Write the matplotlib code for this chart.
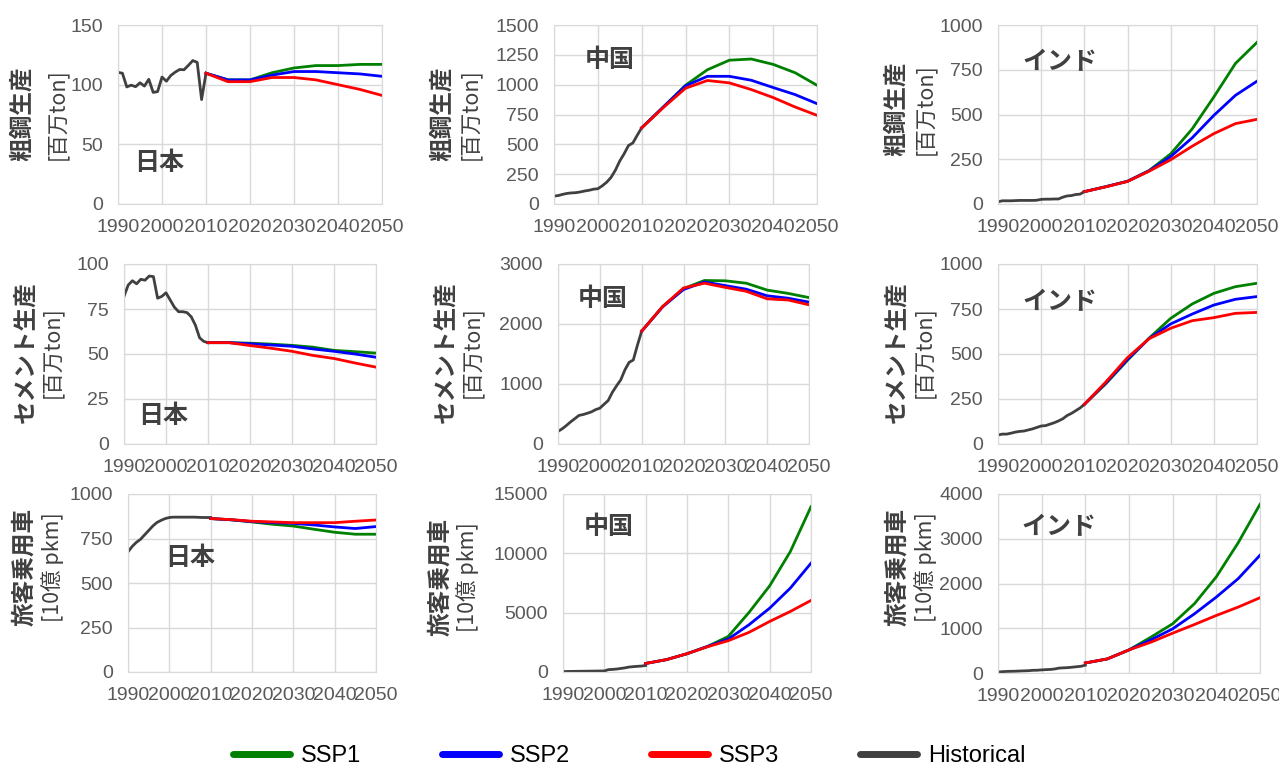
import matplotlib
matplotlib.use("Agg")
import matplotlib.pyplot as plt
import matplotlib.font_manager as fm
from matplotlib.lines import Line2D

# Years
hist_years = list(range(1990, 2011))
scen_years = [2010, 2015, 2020, 2025, 2030, 2035, 2040, 2045, 2050]
xtick_years = [1990, 2000, 2010, 2020, 2030, 2040, 2050]

# Crude steel [million ton]
jp_steel_hist = [110.3, 109.6, 98.1, 99.6, 98.3, 101.6, 98.8, 104.5, 93.5, 94.2, 106.4,
                 102.9, 107.7, 110.5, 112.7, 112.5, 116.2, 120.2, 118.7, 87.5, 109.6]
jp_steel_ssp1 = [109.6, 104, 104, 110, 114, 116, 116, 117, 117]
jp_steel_ssp2 = [109.6, 104, 104, 108, 111, 111, 110, 109, 107]
jp_steel_ssp3 = [109.6, 102.5, 102.5, 106, 106, 104, 100, 96, 91]

cn_steel_hist = [66, 71, 81, 89, 93, 95, 101, 109, 115, 124, 128,
                 152, 182, 222, 283, 360, 421, 490, 512, 577, 638]
cn_steel_ssp1 = [638, 815, 995, 1125, 1205, 1215, 1170, 1100, 995]
cn_steel_ssp2 = [638, 815, 990, 1070, 1070, 1037, 976, 917, 841]
cn_steel_ssp3 = [638, 810, 970, 1035, 1015, 959, 892, 813, 743]

in_steel_hist = [12, 18, 18, 18, 19, 20, 20, 20, 20, 21, 26,
                 27, 27, 28, 28, 38, 45, 47, 53, 55, 69]
in_steel_ssp1 = [69, 97, 127, 187, 280, 420, 598, 785, 903]
in_steel_ssp2 = [69, 97, 127, 185, 265, 370, 495, 607, 686]
in_steel_ssp3 = [69, 96, 126, 183, 247, 323, 393, 449, 473]

# Cement [million ton]
jp_cem_hist = [82, 88.3, 90.7, 89, 91.5, 91, 93.3, 93, 81, 82, 84,
               80, 76, 73.5, 73.5, 73, 70.7, 66, 59, 57, 56.3]
jp_cem_ssp1 = [56.3, 56.3, 56, 55.5, 54.8, 53.8, 52, 51.3, 50.5]
jp_cem_ssp2 = [56.3, 56.3, 55.7, 55, 54.3, 52.8, 51.5, 50, 48.2]
jp_cem_ssp3 = [56.3, 56.3, 54.7, 53.2, 51.5, 49.2, 47.5, 45, 42.7]

cn_cem_hist = [210, 253, 308, 368, 421, 476, 491, 512, 536, 573, 597,
               661, 725, 862, 970, 1069, 1236, 1361, 1400, 1650, 1880]
cn_cem_ssp1 = [1880, 2290, 2590, 2725, 2720, 2680, 2565, 2510, 2440]
cn_cem_ssp2 = [1880, 2285, 2575, 2700, 2640, 2580, 2470, 2430, 2365]
cn_cem_ssp3 = [1880, 2290, 2600, 2680, 2610, 2545, 2420, 2400, 2320]

in_cem_hist = [50, 55, 55, 60, 66, 70, 72, 78, 84, 92, 100,
               102, 110, 118, 128, 140, 158, 170, 185, 200, 220]
in_cem_ssp1 = [220, 335, 465, 588, 698, 778, 837, 874, 893]
in_cem_ssp2 = [220, 340, 470, 586, 667, 722, 772, 804, 819]
in_cem_ssp3 = [220, 345, 480, 585, 643, 685, 702, 726, 731]

# Passenger cars [billion pkm]
jp_car_hist = [675, 705, 728, 745, 770, 795, 820, 840, 852, 862, 868,
               870, 870, 870, 870, 870, 870, 869, 868, 868, 868]
jp_car_ssp1 = [862, 855, 843, 830, 820, 802, 785, 774, 774]
jp_car_ssp2 = [862, 855, 845, 839, 835, 826, 815, 806, 817]
jp_car_ssp3 = [862, 856, 847, 843, 839, 839, 839, 847, 854]

cn_car_hist = [40, 45, 50, 55, 60, 65, 70, 75, 80, 85, 90,
               200, 220, 250, 300, 350, 420, 450, 480, 500, 550]
cn_car_ssp1 = [720, 1040, 1540, 2160, 3000, 5020, 7260, 10150, 13930]
cn_car_ssp2 = [720, 1040, 1540, 2160, 2780, 3980, 5380, 7070, 9170]
cn_car_ssp3 = [720, 1040, 1540, 2130, 2640, 3340, 4260, 5100, 6030]

in_car_hist = [20, 30, 35, 38, 40, 45, 48, 52, 60, 62, 70,
               75, 80, 90, 110, 115, 120, 130, 140, 150, 175]
in_car_ssp1 = [224, 314, 516, 800, 1100, 1550, 2150, 2910, 3770]
in_car_ssp2 = [224, 314, 516, 740, 987, 1323, 1697, 2108, 2632]
in_car_ssp3 = [224, 314, 516, 688, 890, 1084, 1286, 1473, 1682]

# Labels
series_names = ["SSP1", "SSP2", "SSP3", "Historical"]
colors = ["#008000", "#0000FF", "#FF0000", "#404040"]
countries = ["日本", "中国", "インド"]
row_labels = [("粗鋼生産", "[百万ton]"), ("セメント生産", "[百万ton]"), ("旅客乗用車", "[10億 pkm]")]

W, H = 1279, 767
cjk = ["Noto Sans CJK JP", "DejaVu Sans"]
names = {f.name for f in fm.fontManager.ttflist}
narrow = "Liberation Sans Narrow" if "Liberation Sans Narrow" in names else "Liberation Sans"
plt.rcParams["font.family"] = ["Liberation Sans", "DejaVu Sans"]

fig = plt.figure(figsize=(W / 100, H / 100), dpi=100)

# panel: (data, ymax, ystep, box [left, top, right, bottom] px, label x px, label y px, country pos px)
panels = [
    ((jp_steel_hist, jp_steel_ssp1, jp_steel_ssp2, jp_steel_ssp3), 150, 50,
     (118, 25, 382, 204), (22, 57), 114, (159, 163)),
    ((cn_steel_hist, cn_steel_ssp1, cn_steel_ssp2, cn_steel_ssp3), 1500, 250,
     (554, 25, 817, 204), (442, 470), 114, (610, 60)),
    ((in_steel_hist, in_steel_ssp1, in_steel_ssp2, in_steel_ssp3), 1000, 250,
     (998, 25, 1257, 204), (896, 925), 109, (1060, 62)),
    ((jp_cem_hist, jp_cem_ssp1, jp_cem_ssp2, jp_cem_ssp3), 100, 25,
     (124, 264, 376, 444), (25, 52), 352, (163, 416)),
    ((cn_cem_hist, cn_cem_ssp1, cn_cem_ssp2, cn_cem_ssp3), 3000, 1000,
     (558, 264, 809, 444), (445, 472), 352, (603, 299)),
    ((in_cem_hist, in_cem_ssp1, in_cem_ssp2, in_cem_ssp3), 1000, 250,
     (998, 264, 1257, 444), (896, 924), 352, (1060, 302)),
    ((jp_car_hist, jp_car_ssp1, jp_car_ssp2, jp_car_ssp3), 1000, 250,
     (128, 494, 376, 672), (24, 53), 567, (190, 558)),
    ((cn_car_hist, cn_car_ssp1, cn_car_ssp2, cn_car_ssp3), 15000, 5000,
     (563, 494, 811, 672), (440, 468), 577, (609, 527)),
    ((in_car_hist, in_car_ssp1, in_car_ssp2, in_car_ssp3), 4000, 1000,
     (998, 494, 1260, 673), (897, 926), 567, (1059, 527)),
]

for i, (data, ymax, ystep, box, lab_x, lab_y, cpos) in enumerate(panels):
    l, t, r, b = box
    ax = fig.add_axes([l / W, 1 - b / H, (r - l) / W, (b - t) / H])
    hist, s1, s2, s3 = data

    ax.plot(hist_years, hist, color=colors[3], lw=2)
    ax.plot(scen_years, s1, color=colors[0], lw=2)
    ax.plot(scen_years, s2, color=colors[1], lw=2)
    ax.plot(scen_years, s3, color=colors[2], lw=2)

    ax.set_xlim(1990, 2050)
    ax.set_ylim(0, ymax)
    ax.set_xticks(xtick_years)
    ax.set_xticklabels([str(y) for y in xtick_years])
    ax.set_yticks(list(range(0, ymax + 1, ystep)))
    ax.tick_params(length=0, labelsize=14, labelcolor="#595959")
    ax.tick_params(axis="y", pad=11)
    ax.tick_params(axis="x", pad=11)
    ax.grid(True, color="#D9D9D9", lw=1)
    ax.set_axisbelow(True)
    for sp in ax.spines.values():
        sp.set_color("#D9D9D9")

    # y label in two lines
    row = i // 3
    fig.text(lab_x[0] / W, 1 - lab_y / H, row_labels[row][0], rotation=90,
             ha="center", va="center", fontsize=17, fontweight="bold",
             color="#404040", family=cjk)
    fig.text(lab_x[1] / W, 1 - lab_y / H, row_labels[row][1], rotation=90,
             ha="center", va="center", fontsize=15.5, color="#404040", family=cjk)

    # country name
    fig.text(cpos[0] / W, 1 - cpos[1] / H, countries[i % 3], ha="center", va="center",
             fontsize=18, fontweight="bold", color="#404040", family=cjk)

# Legend
handles = [Line2D([0], [0], color=c, lw=5, solid_capstyle="round") for c in colors]
fig.legend(handles, series_names, loc="center", bbox_to_anchor=(629 / W, 1 - 756 / H),
           ncol=4, frameon=False, handlelength=2.45, handletextpad=0.45,
           columnspacing=3.4, borderpad=0, prop={"family": narrow, "size": 17})

plt.savefig("out.png", dpi=100)
